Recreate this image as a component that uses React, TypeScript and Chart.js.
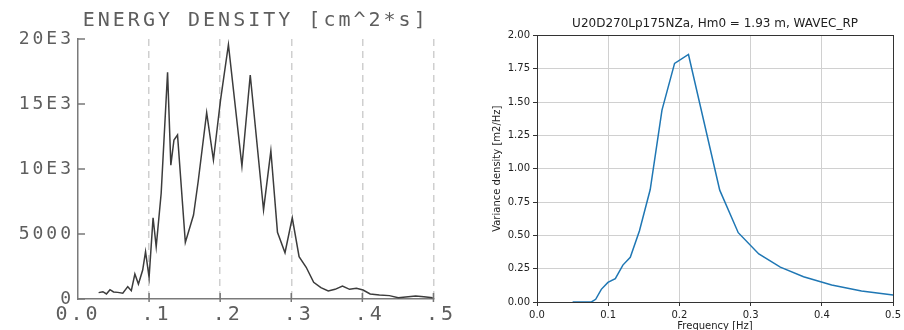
import React, { useEffect, useRef } from "react";
import { Chart, registerables } from "chart.js";

Chart.register(...registerables);

// ---------- Left panel (scanned plotter spectrum) ----------
const leftTitle = "ENERGY DENSITY [cm^2*s]";
const leftFreq = [
  0.029, 0.035, 0.040, 0.045, 0.050, 0.056, 0.063, 0.070, 0.075, 0.080,
  0.085, 0.091, 0.095, 0.100, 0.1056, 0.110, 0.117, 0.126, 0.1306, 0.135,
  0.140, 0.151, 0.1625, 0.169, 0.181, 0.1905, 0.2005, 0.2116, 0.2306, 0.2423,
  0.261, 0.2713, 0.2806, 0.2912, 0.3014, 0.311, 0.321, 0.3315, 0.3417, 0.352,
  0.3616, 0.372, 0.382, 0.3917, 0.401, 0.411, 0.424, 0.438, 0.4505, 0.461,
  0.475, 0.4865, 0.499,
];
const leftEnergy = [
  490, 560, 385, 715, 540, 510, 440, 950, 640, 1920,
  1150, 2230, 3640, 1670, 6250, 4020, 8130, 17440, 10300, 12230,
  12615, 4350, 6460, 9020, 14330, 10690, 15300, 19560, 10230, 17230,
  6850, 11400, 5130, 3560, 6250, 3250, 2440, 1280, 870, 615,
  745, 1000, 745, 820, 690, 385, 310, 260, 100, 150,
  230, 180, 100,
];
const leftYTickLabels = ["0", "5000", "10E3", "15E3", "20E3"];
const leftXTickLabels = ["0.0", " .1", " .2", " .3", " .4", " .5"];

// ---------- Right panel (matplotlib-style spectrum) ----------
const rightTitle = "U20D270Lp175NZa, Hm0 = 1.93 m, WAVEC_RP";
const rightXLabel = "Frequency [Hz]";
const rightYLabel = "Variance density [m2/Hz]";
const rightFreq = [
  0.05, 0.0764, 0.0824, 0.0903, 0.0996, 0.110, 0.1206, 0.131, 0.1439, 0.159,
  0.1755, 0.1932, 0.2127, 0.2566, 0.2826, 0.3115, 0.3417, 0.3743, 0.4138, 0.4557,
  0.5,
];
const rightDensity = [
  0, 0, 0.02, 0.095, 0.147, 0.175, 0.277, 0.335, 0.535, 0.844,
  1.44, 1.79, 1.857, 0.839, 0.52, 0.36, 0.262, 0.19, 0.128, 0.082,
  0.052,
];

const PLOT_FONT = "'DejaVu Sans Mono', monospace";
const PLOT_GRAY = "#5e5e5e";

const letterSpacingPlugin = {
  id: "letterSpacing",
  beforeUpdate(chart: any) {
    chart.ctx.letterSpacing = "3px";
  },
  beforeDraw(chart: any) {
    chart.ctx.letterSpacing = "3px";
  },
  resize(chart: any) {
    chart.ctx.letterSpacing = "3px";
  },
};

const inwardTicksPlugin = {
  id: "inwardTicks",
  afterDraw(chart: any) {
    const { ctx, chartArea, scales } = chart;
    ctx.save();
    ctx.strokeStyle = "#777";
    ctx.lineWidth = 1.5;
    scales.y.ticks.forEach((t: any) => {
      const y = scales.y.getPixelForValue(t.value);
      ctx.beginPath();
      ctx.moveTo(chartArea.left, y);
      ctx.lineTo(chartArea.left + 7, y);
      ctx.stroke();
    });
    scales.x.ticks.forEach((t: any) => {
      if (t.value <= 0.0001) return;
      const x = scales.x.getPixelForValue(t.value);
      ctx.beginPath();
      ctx.moveTo(x, chartArea.bottom + 3);
      ctx.lineTo(x, chartArea.bottom - 6);
      ctx.stroke();
    });
    ctx.restore();
  },
};

const framePlugin = {
  id: "frame",
  afterDraw(chart: any) {
    const { ctx, chartArea } = chart;
    ctx.save();
    ctx.strokeStyle = "#333";
    ctx.lineWidth = 1;
    ctx.strokeRect(
      Math.round(chartArea.left) + 0.5,
      Math.round(chartArea.top) + 0.5,
      Math.round(chartArea.right - chartArea.left),
      Math.round(chartArea.bottom - chartArea.top)
    );
    ctx.restore();
  },
};

function leftConfig(): any {
  return {
    type: "line",
    data: {
      datasets: [
        {
          data: leftFreq.map((f, i) => ({ x: f, y: leftEnergy[i] })),
          borderColor: "#3c3c3c",
          borderWidth: 1.5,
          pointRadius: 0,
          tension: 0,
        },
      ],
    },
    plugins: [letterSpacingPlugin, inwardTicksPlugin],
    options: {
      animation: false,
      responsive: false,
      devicePixelRatio: 1,
      layout: { padding: { left: 0, right: 22, top: 0, bottom: 0 } },
      plugins: {
        legend: { display: false },
        tooltip: { enabled: false },
        title: {
          display: true,
          text: leftTitle,
          fullSize: false,
          color: PLOT_GRAY,
          font: { family: PLOT_FONT, size: 20, weight: "normal" },
          padding: { top: 9, bottom: 6 },
        },
      },
      scales: {
        x: {
          type: "linear",
          min: 0,
          max: 0.5,
          afterFit: (s: any) => {
            s.height = 31;
          },
          ticks: {
            stepSize: 0.1,
            color: PLOT_GRAY,
            font: { family: PLOT_FONT, size: 20 },
            padding: 4,
            maxRotation: 0,
            callback: (v: number) => leftXTickLabels[Math.round(v * 10)],
          },
          grid: {
            drawTicks: false,
            lineWidth: 1.5,
            color: (c: any) =>
              c.tick && c.tick.value > 0.0001 ? "#cfcfcf" : "rgba(0,0,0,0)",
          },
          border: { display: true, color: "#7a7a7a", width: 1.5, dash: [7, 5] },
        },
        y: {
          min: 0,
          max: 20000,
          afterFit: (s: any) => {
            s.width = 78;
          },
          ticks: {
            stepSize: 5000,
            color: PLOT_GRAY,
            font: { family: PLOT_FONT, size: 18 },
            padding: 4,
            callback: (v: number) => leftYTickLabels[Math.round(v / 5000)],
          },
          grid: { drawOnChartArea: false, drawTicks: false },
          border: { display: true, color: "#7a7a7a", width: 1.5 },
        },
      },
    },
  };
}

function rightConfig(): any {
  const font = "'DejaVu Sans', sans-serif";
  return {
    type: "line",
    data: {
      datasets: [
        {
          data: rightFreq.map((f, i) => ({ x: f, y: rightDensity[i] })),
          borderColor: "#1f77b4",
          borderWidth: 1.5,
          pointRadius: 0,
          tension: 0,
        },
      ],
    },
    plugins: [framePlugin],
    options: {
      animation: false,
      responsive: false,
      devicePixelRatio: 1,
      layout: { padding: { left: 0, right: 9, top: 0, bottom: 0 } },
      plugins: {
        legend: { display: false },
        tooltip: { enabled: false },
        title: {
          display: true,
          text: rightTitle,
          fullSize: false,
          color: "#222",
          font: { family: font, size: 12, weight: "normal" },
          padding: { top: 17, bottom: 4 },
        },
      },
      scales: {
        x: {
          type: "linear",
          min: 0,
          max: 0.5,
          afterFit: (s: any) => {
            s.height = 43;
          },
          ticks: {
            stepSize: 0.1,
            color: "#222",
            font: { family: font, size: 10 },
            padding: 3,
            maxRotation: 0,
            callback: (v: number) => v.toFixed(1),
          },
          grid: {
            color: "#d0d0d0",
            lineWidth: 1,
            drawTicks: true,
            tickLength: 4,
            tickColor: "#333",
          },
          border: { display: true, color: "#333", width: 1 },
          title: {
            display: true,
            text: rightXLabel,
            color: "#222",
            font: { family: font, size: 10 },
            padding: { top: 0, bottom: 13 },
          },
        },
        y: {
          min: 0,
          max: 2,
          afterFit: (s: any) => {
            s.width = 77;
          },
          ticks: {
            stepSize: 0.25,
            color: "#222",
            font: { family: font, size: 10 },
            padding: 3,
            callback: (v: number) => v.toFixed(2),
          },
          grid: {
            color: "#d0d0d0",
            lineWidth: 1,
            drawTicks: true,
            tickLength: 4,
            tickColor: "#333",
          },
          border: { display: true, color: "#333", width: 1 },
          title: {
            display: true,
            text: rightYLabel,
            color: "#222",
            font: { family: font, size: 10 },
            padding: { top: 31, bottom: 0 },
          },
        },
      },
    },
  };
}

function ChartCanvas(props: {
  make: () => any;
  left: number;
  width: number;
  height: number;
}) {
  const ref = useRef<HTMLCanvasElement>(null);
  useEffect(() => {
    const chart = new Chart(ref.current as HTMLCanvasElement, props.make());
    return () => chart.destroy();
  }, []);
  return (
    <canvas
      ref={ref}
      width={props.width}
      height={props.height}
      style={{
        position: "absolute",
        left: props.left,
        top: 0,
        width: props.width,
        height: props.height,
        display: "block",
      }}
    />
  );
}

export default function App() {
  return (
    <div
      style={{
        position: "absolute",
        left: 0,
        top: 0,
        width: 904,
        height: 330,
        overflow: "hidden",
        background: "#fff",
      }}
    >
      <ChartCanvas make={leftConfig} left={0} width={460} height={330} />
      <ChartCanvas make={rightConfig} left={460} width={444} height={345} />
    </div>
  );
}
